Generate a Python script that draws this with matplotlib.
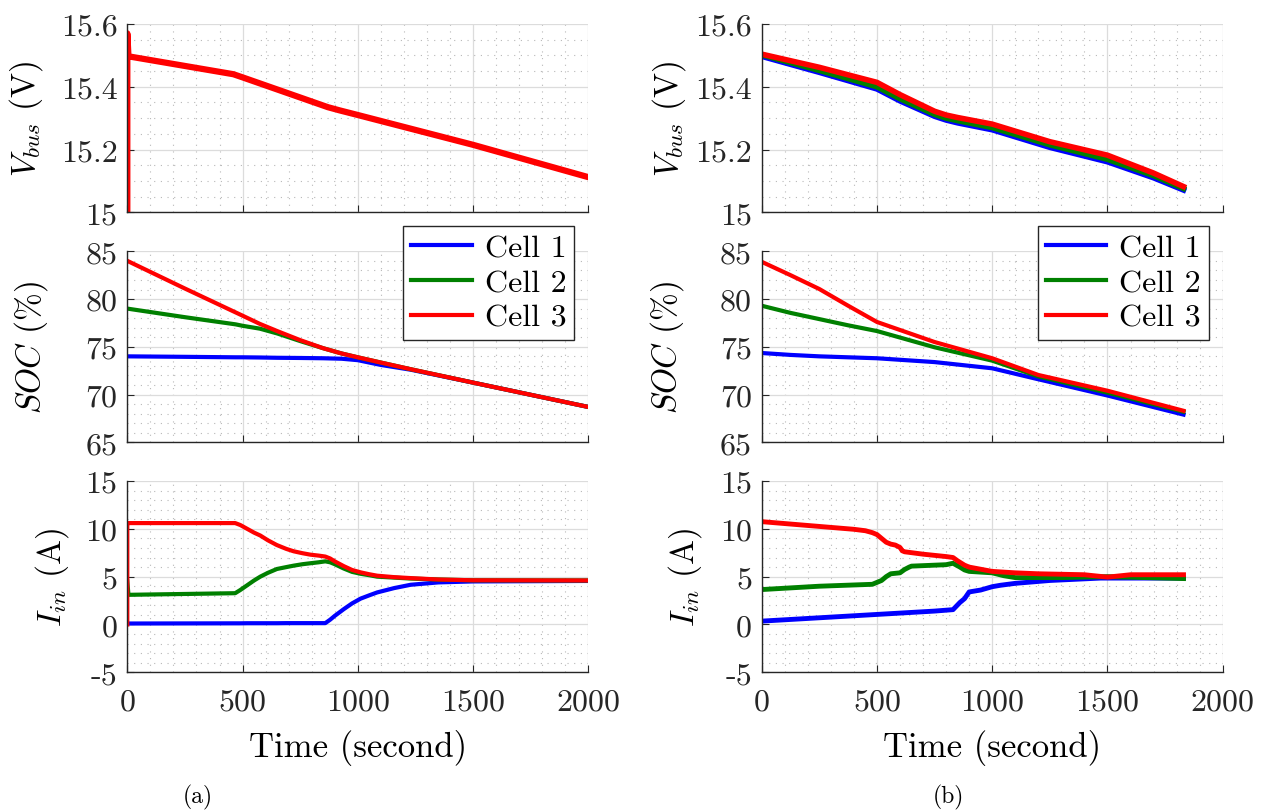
import matplotlib
matplotlib.use("Agg")
import matplotlib.pyplot as plt
from matplotlib.ticker import MultipleLocator, FuncFormatter

plt.rcParams["font.family"] = "serif"
plt.rcParams["font.serif"] = ["cmr10"]
plt.rcParams["mathtext.fontset"] = "cm"
plt.rcParams["axes.unicode_minus"] = False
plt.rcParams["axes.formatter.use_mathtext"] = True

# ---- (a) simulation ----
t_sim_v = [0, 0, 5, 460, 500, 870, 920, 1000, 1500, 2000]
v_sim = [14.9, 15.57, 15.497, 15.44, 15.43, 15.335, 15.325, 15.31, 15.215, 15.112]

t_sim_soc = [0, 250, 470, 500, 575, 650, 750, 850, 930, 1000, 1100, 1230, 1500, 2000]
soc1_sim = [74.0, 73.95, 73.9, 73.9, 73.88, 73.85, 73.83, 73.8, 73.75, 73.6, 73.1,
            72.6, 71.25, 68.7]
soc2_sim = [79.0, 78.1, 77.35, 77.2, 76.9, 76.4, 75.6, 74.85, 74.3, 73.9, 73.35,
            72.65, 71.25, 68.7]
soc3_sim = [84.0, 81.1, 78.6, 78.26, 77.4, 76.65, 75.7, 74.85, 74.3, 73.9, 73.35,
            72.65, 71.25, 68.7]

t_sim_i = [0, 0, 5, 468, 490, 520, 550, 577, 610, 649, 690, 722, 760, 794, 830,
           859, 880, 900, 939, 975, 1012, 1050, 1084, 1157, 1229, 1350, 1500, 2000]
i1_sim = [0.1, 0.1, 0.1, 0.12, 0.12, 0.13, 0.13, 0.13, 0.13, 0.13, 0.14, 0.14,
          0.14, 0.14, 0.14, 0.14, 0.5, 0.9, 1.6, 2.2, 2.7, 3.05, 3.35, 3.8, 4.15,
          4.4, 4.5, 4.55]
i2_sim = [4.5, 4.5, 3.1, 3.27, 3.6, 4.1, 4.6, 5.0, 5.4, 5.8, 6.0, 6.15, 6.3, 6.4,
          6.5, 6.6, 6.5, 6.3, 5.85, 5.5, 5.3, 5.15, 5.0, 4.9, 4.8, 4.7, 4.62, 4.6]
i3_sim = [0.0, 10.6, 10.6, 10.6, 10.4, 10.0, 9.6, 9.3, 8.8, 8.3, 7.9, 7.65, 7.45,
          7.3, 7.2, 7.1, 6.9, 6.6, 6.1, 5.7, 5.45, 5.25, 5.1, 4.95, 4.85, 4.7,
          4.62, 4.6]

# ---- (b) experiment ----
t_exp_v = [0, 250, 500, 600, 750, 800, 850, 1000, 1250, 1500, 1700, 1830]
v1_exp = [15.497, 15.446, 15.393, 15.355, 15.306, 15.294, 15.285, 15.263,
          15.207, 15.161, 15.11, 15.071]
v2_exp = [15.502, 15.452, 15.400, 15.362, 15.312, 15.300, 15.292, 15.270,
          15.215, 15.169, 15.117, 15.076]
v3_exp = [15.504, 15.462, 15.414, 15.375, 15.322, 15.31, 15.302, 15.281,
          15.225, 15.182, 15.125, 15.082]

t_exp_soc = [0, 125, 250, 375, 500, 750, 1000, 1200, 1500, 1830]
soc1_exp = [74.35, 74.15, 74.0, 73.9, 73.8, 73.4, 72.75, 71.6, 69.9, 67.9]
soc2_exp = [79.3, 78.55, 77.9, 77.25, 76.65, 74.95, 73.55, 71.9, 70.2, 68.2]
soc3_exp = [83.9, 82.5, 81.05, 79.3, 77.6, 75.5, 73.8, 72.05, 70.4, 68.3]

t_exp_i1 = [0, 250, 500, 750, 830, 860, 880, 900, 950, 1000, 1036, 1100,
            1250, 1470, 1830]
i1_exp = [0.35, 0.7, 1.05, 1.4, 1.55, 2.3, 2.7, 3.4, 3.6, 3.95, 4.1, 4.3,
          4.6, 4.85, 4.85]
t_exp_i2 = [0, 250, 480, 520, 540, 560, 600, 620, 640, 650, 800, 830, 860,
            880, 900, 1000, 1050, 1100, 1300, 1500, 1830]
i2_exp = [3.65, 4.0, 4.2, 4.6, 5.0, 5.3, 5.4, 5.75, 6.0, 6.1, 6.25, 6.4, 6.0,
          5.7, 5.55, 5.4, 5.1, 4.9, 4.9, 5.0, 4.8]
t_exp_i3 = [0, 100, 250, 400, 450, 480, 500, 520, 540, 560, 580, 600, 610,
            620, 700, 800, 830, 850, 880, 900, 1000, 1100, 1200, 1300, 1400,
            1500, 1600, 1700, 1830]
i3_exp = [10.75, 10.55, 10.25, 9.95, 9.8, 9.6, 9.4, 9.0, 8.6, 8.4, 8.3, 8.05,
          7.7, 7.6, 7.35, 7.1, 7.0, 6.65, 6.2, 6.0, 5.55, 5.4, 5.3, 5.25, 5.2,
          4.95, 5.2, 5.2, 5.2]

cell_labels = ["Cell 1", "Cell 2", "Cell 3"]
colors = ["#0000ff", "#008000", "#ff0000"]

W, H = 1265, 812
AX_W = 461
ROWS = [(25, 213.3), (252.3, 443.3), (482, 673.3)]
COLS = [127.3, 761.7]


def make_axes(fig, x0, ytop, ybot):
    return fig.add_axes([x0 / W, 1 - ybot / H, AX_W / W, (ybot - ytop) / H])


def style_axes(ax, ylim, yticks, yminor, show_x):
    ax.set_xlim(0, 2000)
    ax.set_ylim(*ylim)
    ax.set_xticks([0, 500, 1000, 1500, 2000])
    ax.set_yticks(yticks)
    ax.xaxis.set_minor_locator(MultipleLocator(100))
    ax.yaxis.set_minor_locator(MultipleLocator(yminor))
    ax.yaxis.set_major_formatter(FuncFormatter(lambda v, p: f"{v:g}"))
    ax.grid(which="major", color="#dcdcdc", lw=0.9)
    ax.grid(which="minor", color="#b8b8b8", lw=0.8, linestyle=(0, (1, 5)))
    ax.set_axisbelow(True)
    for side in ["top", "right"]:
        ax.spines[side].set_visible(False)
    for side in ["left", "bottom"]:
        ax.spines[side].set_color("#262626")
        ax.spines[side].set_linewidth(1.0)
    ax.tick_params(which="major", direction="in", length=5, width=0.8,
                   colors="#262626", labelsize=23, pad=7)
    ax.tick_params(axis="x", pad=11)
    ax.tick_params(which="minor", length=0)
    ax.tick_params(axis="x", labelbottom=show_x)


def draw_cells(ax, ts, ys, lw):
    for t, y, c, lab in zip(ts, ys, colors, cell_labels):
        ax.plot(t, y, color=c, lw=lw, label=lab, solid_joinstyle="round")


fig = plt.figure(figsize=(W / 100, H / 100), dpi=100)

panels = []
for x0 in COLS:
    panels.append([make_axes(fig, x0, yt, yb) for yt, yb in ROWS])

# left column: simulation
a_v, a_soc, a_i = panels[0]
a_v.plot(t_sim_v, v_sim, color=colors[2], lw=4.5)
draw_cells(a_soc, [t_sim_soc] * 3, [soc1_sim, soc2_sim, soc3_sim], 3)
draw_cells(a_i, [t_sim_i] * 3, [i1_sim, i2_sim, i3_sim], 3)

# right column: experiment
b_v, b_soc, b_i = panels[1]
draw_cells(b_v, [t_exp_v] * 3, [v1_exp, v2_exp, v3_exp], 4)
draw_cells(b_soc, [t_exp_soc] * 3, [soc1_exp, soc2_exp, soc3_exp], 3)
draw_cells(b_i, [t_exp_i1, t_exp_i2, t_exp_i3], [i1_exp, i2_exp, i3_exp], 3.5)

label_x = [(-0.178, -0.167, -0.122), (-0.16, -0.164, -0.126)]
for col, (axv, axs, axi) in enumerate(panels):
    style_axes(axv, (15, 15.6), [15, 15.2, 15.4, 15.6], 0.05, False)
    style_axes(axs, (65, 85), [65, 70, 75, 80, 85], 1, False)
    style_axes(axi, (-5, 15), [-5, 0, 5, 10, 15], 1, True)
    axv.set_ylabel(r"$V_{bus}$ (V)", fontsize=24)
    axs.set_ylabel(r"$SOC$ (%)", fontsize=24)
    axi.set_ylabel(r"$I_{in}$ (A)", fontsize=24)
    for ax, lx in zip((axv, axs, axi), label_x[col]):
        ax.yaxis.set_label_coords(lx, 0.5)
    axi.set_xlabel("Time (second)", fontsize=25, labelpad=10)
    leg = axs.legend(loc="upper right", bbox_to_anchor=(0.97, 1.132),
                     fontsize=23, frameon=True, fancybox=False, framealpha=1,
                     edgecolor="#262626", handlelength=1.9, borderpad=0.25,
                     labelspacing=0.2, handletextpad=0.4, borderaxespad=0)
    leg.get_frame().set_linewidth(1.0)

fig.text(198 / W, 1 - 797 / H, "(a)", fontsize=17, ha="center", va="center")
fig.text(948 / W, 1 - 797 / H, "(b)", fontsize=17, ha="center", va="center")

fig.savefig("out.png", dpi=100)
